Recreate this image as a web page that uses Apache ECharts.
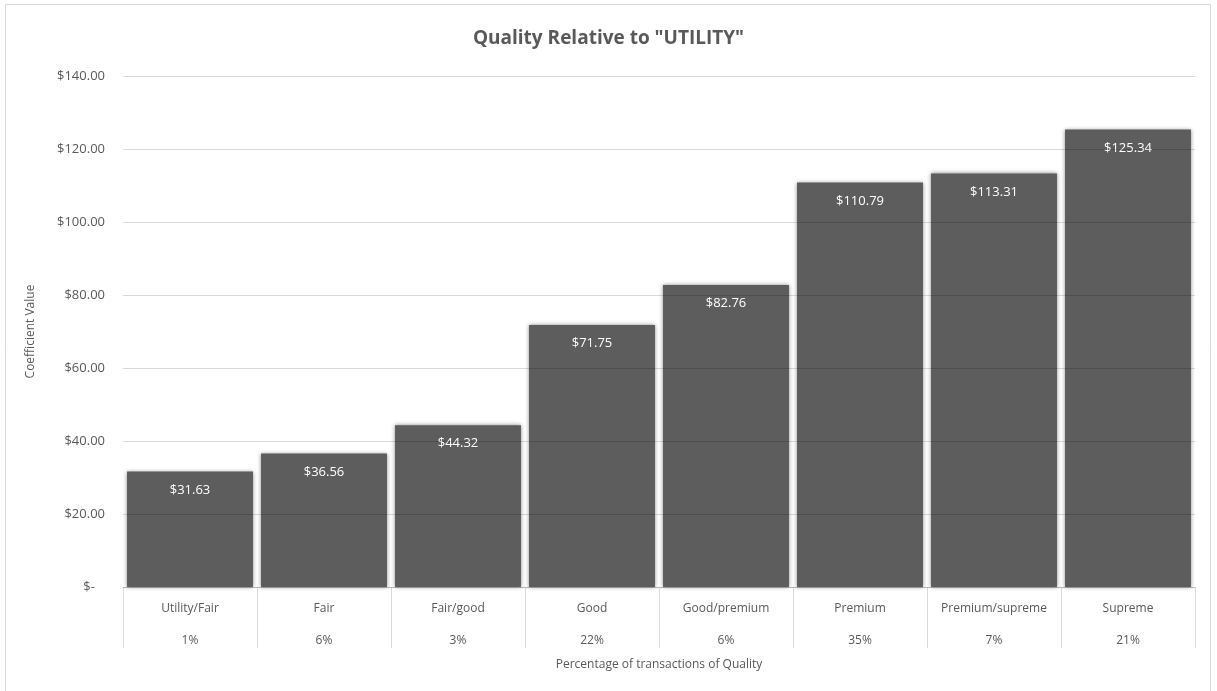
<!DOCTYPE html>
<html>
<head>
<meta charset="utf-8">
<script src="https://cdn.jsdelivr.net/npm/echarts@6/dist/echarts.min.js"></script>
<style>
  html, body { margin: 0; padding: 0; background: #ffffff; }
  #chart { width: 1217px; height: 691px; }
</style>
</head>
<body>
<div id="chart"></div>
<script>
// Quality grades, their share of transactions, and coefficient values
const categories = ['Utility/Fair', 'Fair', 'Fair/good', 'Good', 'Good/premium', 'Premium', 'Premium/supreme', 'Supreme'];
const shares = ['1%', '6%', '3%', '22%', '6%', '35%', '7%', '21%'];
const coefficients = [31.63, 36.56, 44.32, 71.75, 82.76, 110.79, 113.31, 125.34];

const FONT = '"Open Sans", "Noto Sans", sans-serif';
const TEXT = '#595959';

function money(v) {
  if (v === 0) return '$-   ';
  return '$' + v.toFixed(2);
}

const chart = echarts.init(document.getElementById('chart'));
chart.setOption({
  animation: false,
  backgroundColor: '#ffffff',
  textStyle: { fontFamily: FONT },
  graphic: [{
    type: 'rect',
    shape: { x: 5.5, y: 4.5, width: 1205, height: 690 },
    style: { fill: 'none', stroke: '#d9d9d9', lineWidth: 1 },
    silent: true
  }],
  title: {
    text: 'Quality Relative to "UTILITY"',
    left: 'center',
    top: 24,
    textStyle: { fontFamily: FONT, fontSize: 19, fontWeight: 'bold', color: TEXT }
  },
  grid: { left: 123, right: 22, top: 76, bottom: 104 },
  xAxis: {
    type: 'category',
    data: categories,
    name: 'Percentage of transactions of Quality',
    nameLocation: 'middle',
    nameGap: 72,
    nameTextStyle: { fontFamily: FONT, fontSize: 12, color: TEXT },
    axisLine: { lineStyle: { color: '#d9d9d9', width: 1 } },
    axisTick: { show: true, length: 61, lineStyle: { color: '#d9d9d9' } },
    axisLabel: {
      margin: 6,
      interval: 0,
      formatter: function (value, idx) {
        return '{n|' + value + '}\n{p|' + shares[idx] + '}';
      },
      rich: {
        n: { fontFamily: FONT, fontSize: 12, color: TEXT, lineHeight: 32 },
        p: { fontFamily: FONT, fontSize: 12, color: TEXT, lineHeight: 32 }
      }
    }
  },
  yAxis: {
    type: 'value',
    min: 0,
    max: 140,
    interval: 20,
    z: 3,
    name: 'Coefficient Value',
    nameLocation: 'middle',
    nameGap: 86,
    nameTextStyle: { fontFamily: FONT, fontSize: 12, color: TEXT },
    axisLine: { show: false },
    axisTick: { show: false },
    axisLabel: {
      fontFamily: FONT, fontSize: 13, color: TEXT, margin: 18,
      formatter: money
    },
    splitLine: { lineStyle: { color: 'rgba(0,0,0,0.15)', width: 1 } }
  },
  series: [{
    type: 'bar',
    data: coefficients,
    barCategoryGap: '6%',
    itemStyle: {
      color: '#5d5d5d',
      shadowBlur: 4,
      shadowColor: 'rgba(0,0,0,0.45)'
    },
    label: {
      show: true,
      position: 'insideTop',
      distance: 12,
      color: '#ffffff',
      fontFamily: FONT,
      fontSize: 13,
      formatter: function (p) { return money(p.value); }
    }
  }]
});
</script>
</body>
</html>
